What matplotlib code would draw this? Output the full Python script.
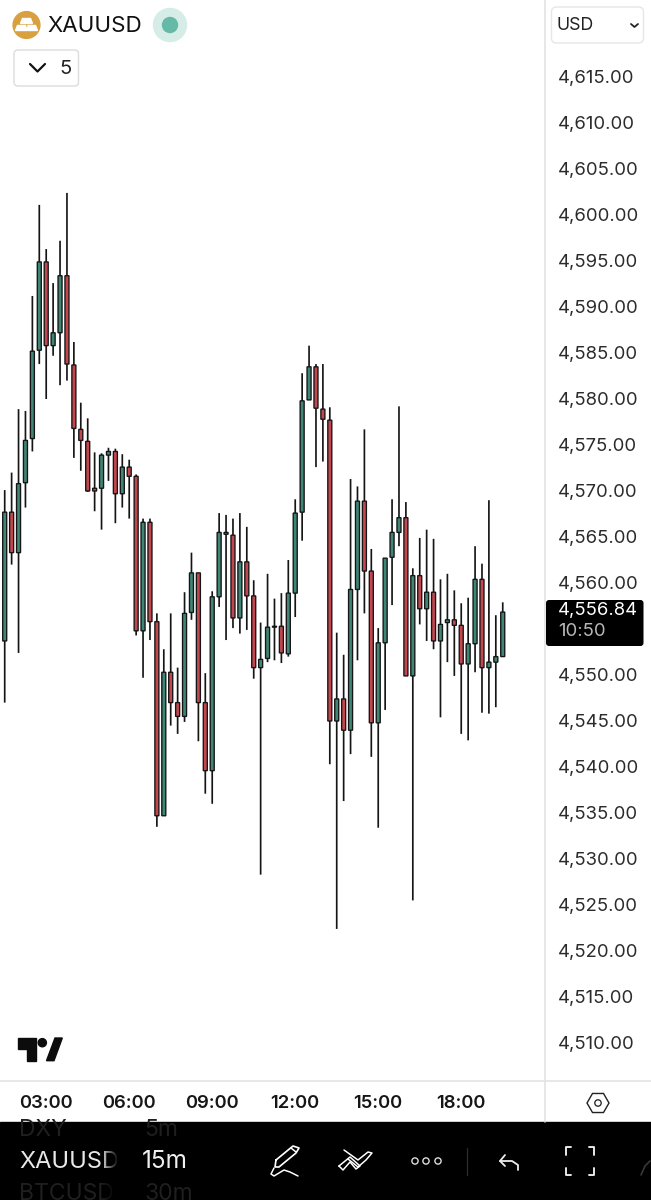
import numpy as np
import matplotlib
matplotlib.use("Agg")
import matplotlib.pyplot as plt
from matplotlib.patches import Circle, Rectangle, FancyBboxPatch, Polygon, RegularPolygon
from matplotlib.transforms import ScaledTranslation

SYMBOL = "XAUUSD"
opens = [4553.7,4567.7,4563.3,4570.9,4575.7,4585.3,4594.9,4585.8,4587.2,4593.4,
         4583.7,4576.7,4575.4,4570.3,4570.3,4573.9,4574.3,4569.7,4572.6,4571.6,
         4554.8,4566.6,4555.8,4534.7,4550.3,4547.0,4545.5,4556.8,4561.1,4547.0,
         4539.6,4558.5,4565.5,4565.2,4556.2,4562.3,4558.6,4550.8,4551.8,4555.2,
         4555.3,4552.3,4558.9,4567.7,4579.9,4583.5,4578.9,4577.7,4545.0,4547.4,
         4544.0,4559.3,4568.9,4561.3,4544.8,4553.5,4562.8,4565.5,4567.1,4549.9,
         4560.8,4557.2,4559.0,4553.7,4555.7,4556.0,4555.4,4551.2,4553.4,4560.4,
         4550.8,4551.4,4552.0]
closes = [4567.7,4563.3,4570.8,4575.5,4585.2,4594.9,4585.8,4587.2,4593.4,4583.8,
          4576.8,4575.5,4570.0,4570.0,4573.9,4574.3,4569.7,4572.6,4571.6,4554.8,
          4566.6,4555.8,4534.7,4550.3,4547.0,4545.5,4556.7,4561.1,4547.0,4539.6,
          4558.5,4565.5,4565.3,4556.2,4562.3,4558.6,4550.8,4551.7,4555.2,4555.3,
          4552.4,4558.9,4567.6,4579.8,4583.5,4579.0,4577.8,4545.0,4547.4,4544.0,
          4559.3,4568.9,4561.3,4544.8,4553.5,4562.7,4565.5,4567.1,4549.9,4560.8,
          4557.2,4559.0,4553.7,4555.5,4556.0,4555.4,4551.2,4553.4,4560.4,4550.8,
          4551.4,4552.0,4556.84]
highs = [4570.1,4572.0,4578.9,4578.7,4591.2,4601.1,4596.3,4592.6,4597.2,4602.4,
         4586.2,4579.6,4577.9,4574.2,4574.1,4574.7,4574.6,4574.0,4573.4,4571.8,
         4567.0,4567.0,4556.7,4552.8,4556.7,4550.8,4559.0,4563.3,4561.1,4550.2,
         4559.1,4567.6,4567.4,4567.0,4567.6,4566.1,4560.3,4555.7,4561.0,4558.3,
         4558.9,4562.5,4569.1,4582.8,4585.8,4583.8,4583.8,4579.1,4554.6,4552.2,
         4571.3,4570.5,4576.7,4563.7,4555.1,4562.7,4569.1,4579.2,4568.8,4561.6,
         4564.9,4565.8,4564.8,4560.4,4561.0,4559.2,4557.8,4558.4,4564.0,4562.1,
         4569.0,4556.5,4557.9]
lows = [4547.0,4562.0,4552.4,4568.2,4574.3,4583.8,4580.0,4584.7,4581.5,4582.0,
        4573.6,4572.2,4569.9,4567.8,4565.8,4571.1,4566.5,4568.2,4567.0,4554.3,
        4549.7,4553.8,4533.5,4534.7,4544.5,4543.6,4544.9,4556.0,4542.8,4537.1,
        4536.0,4557.4,4553.8,4555.1,4554.5,4554.9,4549.6,4528.3,4551.4,4551.6,
        4551.3,4552.0,4556.3,4564.6,4579.9,4572.6,4573.2,4540.3,4522.4,4536.3,
        4541.4,4551.6,4556.7,4541.1,4533.4,4546.2,4557.6,4564.0,4549.9,4525.5,
        4555.5,4553.7,4552.8,4545.4,4551.4,4549.9,4543.6,4542.9,4550.3,4545.9,
        4545.8,4546.5,4552.0]
time_ticks = [6, 18, 30, 42, 54, 66]
time_labels = ["03:00", "06:00", "09:00", "12:00", "15:00", "18:00"]
price_ticks = [p for p in range(4510, 4620, 5) if p != 4555]
last_price = 4556.84
countdown = "10:50"

W, H = 651, 1200
UI = ["Inter", "Liberation Sans", "DejaVu Sans"]
plt.rcParams["font.family"] = UI
GREEN, RED, INK = "#3f8676", "#c4474f", "#151515"
px = 72 / 100  # points per pixel at dpi 100

fig = plt.figure(figsize=(W / 100, H / 100), dpi=100, facecolor="white")
ax = fig.add_axes([0, (H - 1081) / H, 545 / W, 1081 / H])
x = np.arange(len(opens))
up = np.array(closes) >= np.array(opens)
colors = [GREEN if u else RED for u in up]
wicks = ax.vlines(x, lows, highs, color=INK, lw=1.7 * px, zorder=2)
wicks.set_snap(False)
bars = ax.bar(x, np.array(closes) - np.array(opens), bottom=opens, width=0.58,
              color=colors, edgecolor=INK, linewidth=1.35 * px, zorder=3)
for b in bars:
    b.set_snap(False)
ax.set_xlim(-0.68, 78.11)
ax.set_ylim(4505.87, 4623.37)
ax.yaxis.tick_right()
ax.set_yticks(price_ticks)
ax.set_yticklabels([f"{p:,.2f}" for p in price_ticks], fontsize=13.3, color="#2b2b2b")
ax.set_xticks(time_ticks)
ax.set_xticklabels(time_labels, fontsize=13.3, color="#161616", fontweight="semibold")
ax.tick_params(axis="y", length=0, pad=13 * px)
ax.tick_params(axis="x", length=0, pad=14 * px)
up_one = ScaledTranslation(0, 1 / 100, fig.dpi_scale_trans)
for lab in ax.get_yticklabels():
    lab.set_transform(lab.get_transform() + up_one)
for s in ("top", "left"):
    ax.spines[s].set_visible(False)
for s in ("right", "bottom"):
    ax.spines[s].set_color("#e2e2e2")
    ax.spines[s].set_linewidth(1.6 * px)

# Interface layer in pixel coordinates
ui = fig.add_axes([0, 0, 1, 1], facecolor="none")
ui.set_xlim(0, W)
ui.set_ylim(H, 0)
ui.axis("off")

def line(xs, ys, color="white", lw=1.5, z=6):
    ui.plot(xs, ys, color=color, lw=lw * px, solid_capstyle="round",
            solid_joinstyle="round", zorder=z)

line([545, 651], [1081, 1081], "#e2e2e2", 1.6)
line([545, 545], [1081, 1122], "#e2e2e2", 1.6)

# Header
ui.add_patch(Circle((26.5, 25), 13.4, color="#d9a03f", zorder=3))
for poly in ([(22.5, 18.5), (30.5, 18.5), (32.5, 23.5), (20.5, 23.5)],
             [(17.5, 25.5), (25.5, 25.5), (27, 30.5), (15.5, 30.5)],
             [(28, 25.5), (35.5, 25.5), (37.5, 30.5), (27.5, 30.5)]):
    ui.add_patch(Polygon(poly, color="white", zorder=4))
ui.text(47, 26, SYMBOL, fontsize=16.1, color="#111111", va="center", ha="left")
ui.add_patch(Circle((170, 25), 16.5, color="#d6ece7", zorder=3))
ui.add_patch(Circle((170, 25), 7.5, color="#66b9a6", zorder=4))
ui.add_patch(FancyBboxPatch((14, 50), 64.5, 36, boxstyle="round,pad=0,rounding_size=4",
                            fc="white", ec="#dcdcdc", lw=1.4 * px, zorder=3))
line([30, 37.5, 45], [64, 71.5, 64], "#111111", 2.2)
ui.text(59, 68.5, "5", fontsize=14.5, color="#222222", va="center", ha="left")
ui.add_patch(FancyBboxPatch((551.5, 7), 92, 36, boxstyle="round,pad=0,rounding_size=5",
                            fc="white", ec="#e6e6e6", lw=1.4 * px, zorder=3))
ui.text(557, 25.5, "USD", fontsize=12.8, color="#222222", va="center", ha="left", zorder=4)
line([631, 634.5, 638], [24, 27, 24], "#222222", 1.8)

# TradingView mark
ui.add_patch(Polygon([(17.7, 1038), (35.7, 1038), (35.7, 1060.7), (26.7, 1060.7),
                      (26.7, 1049), (17.7, 1049)], color="#0c0c0c", zorder=4))
ui.add_patch(Circle((42.3, 1042.7), 4.1, color="#0c0c0c", zorder=4))
ui.add_patch(Polygon([(46.5, 1060.7), (55, 1038), (62.3, 1038), (54, 1060.7)],
                     color="#0c0c0c", zorder=4))

# Last price tag
ui.add_patch(FancyBboxPatch((546, 600), 97.5, 46, boxstyle="round,pad=0,rounding_size=3",
                            fc="black", ec="none", zorder=5))
ui.text(558, 611, f"{last_price:,.2f}", fontsize=13.3, color="white", va="center", zorder=6)
ui.text(558, 632, countdown, fontsize=13.3, color="#b8b8b8", va="center", zorder=6)

# Settings hexagon
ui.add_patch(RegularPolygon((598, 1103), 6, radius=11, orientation=np.pi / 6, fc="none",
                            ec="#222222", lw=1.4 * px, zorder=4))
ui.add_patch(Circle((598, 1103), 3.2, fc="none", ec="#222222", lw=1.3 * px, zorder=4))

# Bottom toolbar
ui.add_patch(Rectangle((0, 1122), W, 78, color="black", zorder=3))
for tx, ty, s, c, fs in [(19, 1130, "DXY", "#1f1f1f", 16.5), (144, 1130, "5m", "#1f1f1f", 16.5),
                         (19, 1194, "BTCUSD", "#1f1f1f", 16.5), (144, 1194, "30m", "#1f1f1f", 16.5),
                         (19, 1162, SYMBOL, "#e8e8e8", 17), (142, 1162, "15m", "#f0f0f0", 17.5)]:
    t = ui.text(tx, ty, s, color=c, fontsize=fs, va="center", ha="left", zorder=4)
    t.set_clip_path(Rectangle((0, 1122), W, 78, transform=ui.transData))
fade = np.zeros((1, 24, 4))
fade[0, :, 3] = np.clip(np.linspace(0, 1.3, 24), 0, 1)
ui.imshow(fade, extent=(100, 124, 1200, 1122), aspect="auto", zorder=5)
ui.set_xlim(0, W)
ui.set_ylim(H, 0)

# pen
line([276, 293, 299, 296, 279, 275, 276], [1160, 1146, 1148, 1153, 1167, 1167, 1160], "white", 1.7)
line([291, 296], [1148, 1152], "white", 1.5)
line([274, 271, 274, 284, 290, 298], [1168, 1174, 1176, 1170, 1172, 1176], "white", 1.5)
# double chevrons
line([339, 350, 360, 356, 350, 343, 339], [1166, 1157, 1166, 1169, 1162, 1170, 1166], "white", 1.5)
line([348, 358, 366, 372, 368, 358, 344], [1159, 1167, 1160, 1153, 1152, 1160, 1150], "white", 1.5)
# three dots
for cx in (415, 426, 438):
    ui.add_patch(Circle((cx, 1161), 3.1, fc="none", ec="#dddddd", lw=1.4 * px, zorder=6))
line([467, 467], [1148, 1175], "#2e2e2e", 1.2)
# undo
line([505, 500, 505], [1155, 1161, 1166], "#eeeeee", 1.8)
line([500, 512, 518, 518], [1161, 1161, 1165, 1170], "#eeeeee", 1.8)
# fullscreen corners
for xs, ys in ([[566, 566, 571], [1155, 1147, 1147]], [[589, 594, 594], [1147, 1147, 1155]],
               [[566, 566, 571], [1168, 1175, 1175]], [[589, 594, 594], [1175, 1175, 1168]]):
    line(xs, ys, "#eeeeee", 1.9)
line([641, 645, 650], [1175, 1166, 1161], "#3a3a3a", 1.6)

fig.savefig("out.png", dpi=100, facecolor="white")
